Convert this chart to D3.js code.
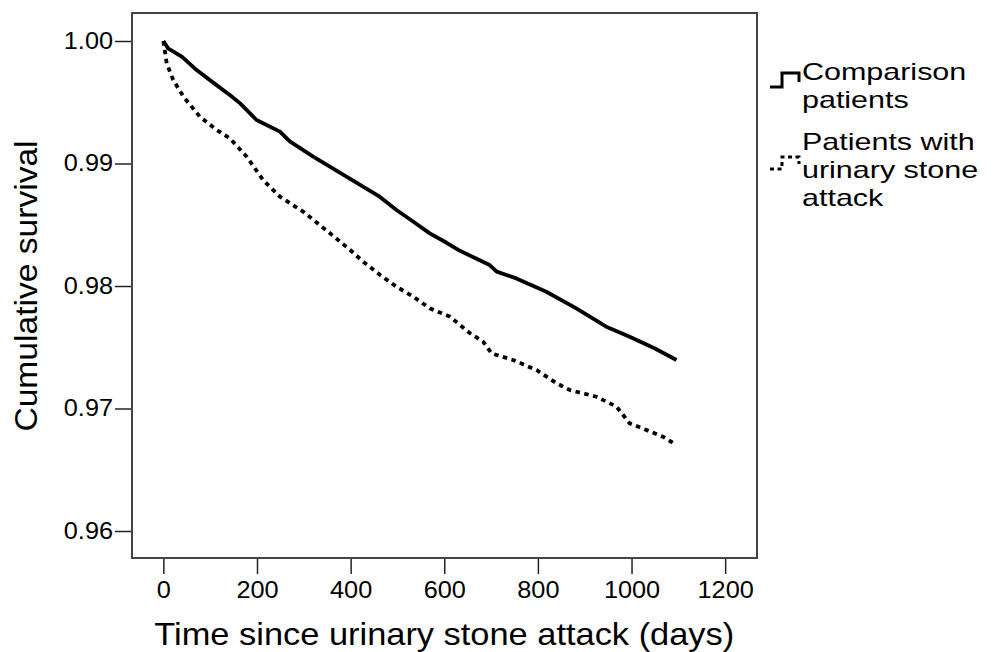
<!DOCTYPE html>
<html>
<head>
<meta charset="utf-8">
<script src="https://cdn.jsdelivr.net/npm/d3@7"></script>
<style>
	body { margin: 0; background: #fff; }
	text { font-family: "Liberation Sans", Arial, sans-serif; fill: #000; }
</style>
</head>
<body>
<div id="visHolder"></div>
<script>
// time points (days) and survival
const comparisonDays = [0, 10, 40, 71, 110, 142, 164, 199, 249, 270, 320, 391, 462, 498, 534, 569, 605, 630, 697, 712, 754, 818, 882, 946, 996, 1050, 1096];
const comparisonSurvival = [1.0, 0.9994, 0.9987, 0.99763, 0.9965, 0.99559, 0.99491, 0.99355, 0.9926, 0.9918, 0.99056, 0.98892, 0.98729, 0.9862, 0.98525, 0.9843, 0.98353, 0.98294, 0.98171, 0.98117, 0.98062, 0.97953, 0.97818, 0.97668, 0.97586, 0.9749, 0.97396];

const stoneDays = [0, 4, 7, 21, 43, 78, 114, 142, 178, 213, 249, 299, 356, 399, 427, 463, 498, 534, 569, 612, 655, 683, 701, 747, 797, 840, 868, 925, 968, 996, 1032, 1067, 1096];
const stoneSurvival = [1.0, 0.999, 0.99818, 0.99682, 0.99545, 0.99382, 0.99273, 0.99206, 0.99056, 0.98865, 0.98729, 0.98606, 0.9843, 0.98294, 0.98198, 0.9809, 0.97994, 0.97913, 0.97818, 0.9775, 0.97614, 0.97546, 0.9745, 0.97396, 0.97314, 0.97206, 0.97151, 0.97096, 0.97015, 0.96879, 0.96824, 0.9677, 0.96702];

const xTicks = [0, 200, 400, 600, 800, 1000, 1200];
const yTicks = [0.96, 0.97, 0.98, 0.99, 1.0];

const seriesNames = ["Comparison patients", "Patients with urinary stone attack"];
const legendLabels = [["Comparison", "patients"], ["Patients with", "urinary stone", "attack"]];

const options = {
	dimensions: { width: 625, height: 545 },
	padding: { top: 13, left: 132 },
	xDomain: [-67, 1268],
	yDomain: [0.957796, 1.002286],
	xTitle: "Time since urinary stone attack (days)",
	yTitle: "Cumulative survival",
	legendPosition: { x: 770, y: 80 },
	tickStretch: 1.1,
	titleStretch: 1.075,
	legendStretch: 1.27,
};

SurvivalChart(options);

function SurvivalChart({ dimensions, padding, xDomain, yDomain, xTitle, yTitle, legendPosition, tickStretch, titleStretch, legendStretch }) {
	//create svg
	const svg = d3
		.select("#visHolder")
		.append("svg")
		.attr("width", 994)
		.attr("height", 652);

	const chartArea = svg
		.append("g")
		.attr("transform", `translate(${padding.left}, ${padding.top})`);

	//scales
	const xScale = d3.scaleLinear().domain(xDomain).range([0, dimensions.width]);
	const yScale = d3.scaleLinear().domain(yDomain).range([dimensions.height, 0]);

	//x axis
	const xAxis = chartArea
		.append("g")
		.attr("transform", `translate(0, ${dimensions.height})`)
		.call(d3.axisBottom(xScale).tickValues(xTicks).tickSize(16).tickPadding(8).tickFormat(d3.format("d")));
	xAxis.select(".domain").remove();
	xAxis.selectAll("line").attr("stroke", "#222").attr("stroke-width", 1.5).attr("y1", 1);
	xAxis
		.selectAll("text")
		.attr("font-size", 23)
		.attr("transform", `scale(${tickStretch}, 1)`);
	// undo the stretch on the tick group offset
	xAxis.selectAll(".tick text").attr("x", 0);

	//y axis
	const yAxis = chartArea
		.append("g")
		.call(d3.axisLeft(yScale).tickValues(yTicks).tickSize(17).tickPadding(2).tickFormat(d3.format(".2f")));
	yAxis.select(".domain").remove();
	yAxis.selectAll("line").attr("stroke", "#222").attr("stroke-width", 1.5);
	yAxis
		.selectAll("text")
		.attr("font-size", 23)
		.attr("x", -19 / tickStretch)
		.attr("transform", `scale(${tickStretch}, 1)`);

	//frame
	chartArea
		.append("rect")
		.attr("width", dimensions.width)
		.attr("height", dimensions.height)
		.attr("fill", "none")
		.attr("stroke", "#444")
		.attr("stroke-width", 2);

	//lines
	const line = d3
		.line()
		.x((d) => xScale(d[0]))
		.y((d) => yScale(d[1]));

	const comparisonData = d3.zip(comparisonDays, comparisonSurvival);
	const stoneData = d3.zip(stoneDays, stoneSurvival);

	chartArea
		.append("path")
		.datum(comparisonData)
		.attr("class", "series")
		.attr("data-name", seriesNames[0])
		.attr("d", line)
		.attr("fill", "none")
		.attr("stroke", "#000")
		.attr("stroke-width", 3.8)
		.attr("stroke-linejoin", "round");

	chartArea
		.append("path")
		.datum(stoneData)
		.attr("class", "series")
		.attr("data-name", seriesNames[1])
		.attr("d", line)
		.attr("fill", "none")
		.attr("stroke", "#000")
		.attr("stroke-width", 3.8)
		.attr("stroke-dasharray", "4.5,4.5");

	//axis titles
	svg
		.append("text")
		.attr("transform", `translate(${padding.left + xScale(600)}, 645) scale(${titleStretch}, 1)`)
		.attr("text-anchor", "middle")
		.attr("font-size", 32)
		.text(xTitle);

	svg
		.append("text")
		.attr("transform", `translate(37, 286) rotate(-90) scale(1.05, 1)`)
		.attr("text-anchor", "middle")
		.attr("font-size", 32)
		.text(yTitle);

	//legend
	const legend = svg
		.append("g")
		.attr("transform", `translate(${legendPosition.x}, ${legendPosition.y})`);

	const legendItems = legend
		.selectAll("g")
		.data(legendLabels)
		.join("g")
		.attr("transform", (_d, i) => `translate(0, ${i * 70})`);

	legendItems
		.append("path")
		.attr("d", (_d, i) => (i === 0 ? "M0,7 H12 V-7 H29 V2" : "M0,19 H12 V7 H29 V14"))
		.attr("fill", "none")
		.attr("stroke", "#000")
		.attr("stroke-width", 3)
		.attr("stroke-dasharray", (_d, i) => (i === 0 ? null : "4,3.5"));

	legendItems
		.append("text")
		.attr("transform", `translate(32, 0) scale(${legendStretch}, 1)`)
		.attr("font-size", 24)
		.selectAll("tspan")
		.data((d) => d)
		.join("tspan")
		.attr("x", 0)
		.attr("y", (_d, i) => i * 28)
		.text((d) => d);
}
</script>
</body>
</html>
